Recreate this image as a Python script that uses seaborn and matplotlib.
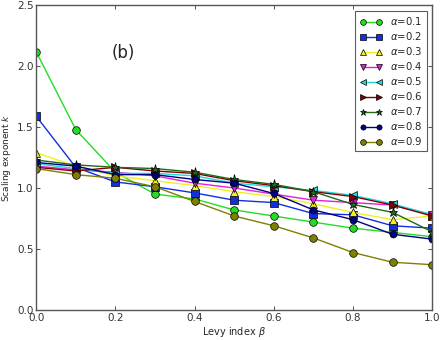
import numpy as np
import pandas as pd
import matplotlib
matplotlib.use("Agg")
import matplotlib.pyplot as plt
import seaborn as sns

beta = [0.0, 0.1, 0.2, 0.3, 0.4, 0.5, 0.6, 0.7, 0.8, 0.9, 1.0]
alphas = ["0.1", "0.2", "0.3", "0.4", "0.5", "0.6", "0.7", "0.8", "0.9"]

k_a01 = [2.12, 1.48, 1.13, 0.95, 0.91, 0.82, 0.77, 0.72, 0.67, 0.635, 0.60]
k_a02 = [1.59, 1.17, 1.05, 1.01, 0.96, 0.90, 0.88, 0.79, 0.78, 0.69, 0.67]
k_a03 = [1.29, 1.18, 1.10, 1.06, 1.02, 0.97, 0.93, 0.87, 0.80, 0.74, 0.77]
k_a04 = [1.18, 1.15, 1.13, 1.10, 1.04, 1.00, 0.95, 0.90, 0.88, 0.86, 0.78]
k_a05 = [1.20, 1.16, 1.12, 1.12, 1.10, 1.04, 1.01, 0.98, 0.94, 0.87, 0.78]
k_a06 = [1.17, 1.14, 1.17, 1.14, 1.12, 1.06, 1.02, 0.97, 0.93, 0.86, 0.77]
k_a07 = [1.23, 1.19, 1.17, 1.16, 1.13, 1.07, 1.03, 0.97, 0.865, 0.80, 0.64]
k_a08 = [1.21, 1.18, 1.11, 1.11, 1.07, 1.04, 0.955, 0.82, 0.74, 0.62, 0.58]
k_a09 = [1.16, 1.11, 1.08, 1.01, 0.89, 0.77, 0.69, 0.59, 0.47, 0.39, 0.37]

series = [k_a01, k_a02, k_a03, k_a04, k_a05, k_a06, k_a07, k_a08, k_a09]
colors = ["#22dd22", "#1030e0", "#f0f020", "#e020e0", "#20d8d8",
          "#800000", "#1e6b1e", "#000080", "#808000"]
markers = ["o", "s", "^", "v", "<", ">", "*", "o", "o"]
msizes = [5.5, 5.5, 5.5, 5.5, 5.5, 5.5, 6.5, 5.0, 5.5]

sns.set_style("ticks")
plt.rcParams["font.family"] = ["DejaVu Sans"]
plt.rcParams["mathtext.fontset"] = "dejavusans"

fig = plt.figure(figsize=(4.41, 3.40), dpi=100)
ax = fig.add_axes([0.082, 0.089, 0.898, 0.895])

for a, vals, c, m, ms in zip(alphas, series, colors, markers, msizes):
    df = pd.DataFrame({"beta": beta, "k": vals})
    sns.lineplot(data=df, x="beta", y="k", ax=ax, color=c, marker=m,
                 markersize=ms, markeredgecolor="black", markeredgewidth=0.5,
                 linewidth=1.0, label=r"$\alpha$=" + a)

ax.set_xlim(0, 1.0)
ax.set_ylim(0, 2.5)
ax.set_xticks([0.0, 0.2, 0.4, 0.6, 0.8, 1.0])
ax.set_yticks([0.0, 0.5, 1.0, 1.5, 2.0, 2.5])
ax.set_xticklabels(["0.0", "0.2", "0.4", "0.6", "0.8", "1.0"])
ax.set_yticklabels(["0.0", "0.5", "1.0", "1.5", "2.0", "2.5"])
ax.tick_params(direction="in", top=True, right=True, length=3, width=0.6,
               labelsize=7.5, colors="#333333", pad=2)
for s in ax.spines.values():
    s.set_color("#555555")
    s.set_linewidth(1.0)

ax.set_xlabel(r"Levy index $\beta$", fontsize=7, labelpad=2)
ax.set_ylabel(r"Scaling exponent $k$", fontsize=6.5, labelpad=3)
ax.text(0.19, 2.07, "(b)", fontsize=12)

leg = ax.legend(loc="upper right", numpoints=2, fontsize=7.3, frameon=True,
                fancybox=False, borderpad=0.4, labelspacing=0.3,
                handlelength=2.2, handletextpad=0.8, markerscale=0.75,
                borderaxespad=0.55)
leg.get_frame().set_edgecolor("#333333")
leg.get_frame().set_linewidth(0.8)

fig.savefig("out.png", dpi=100)
